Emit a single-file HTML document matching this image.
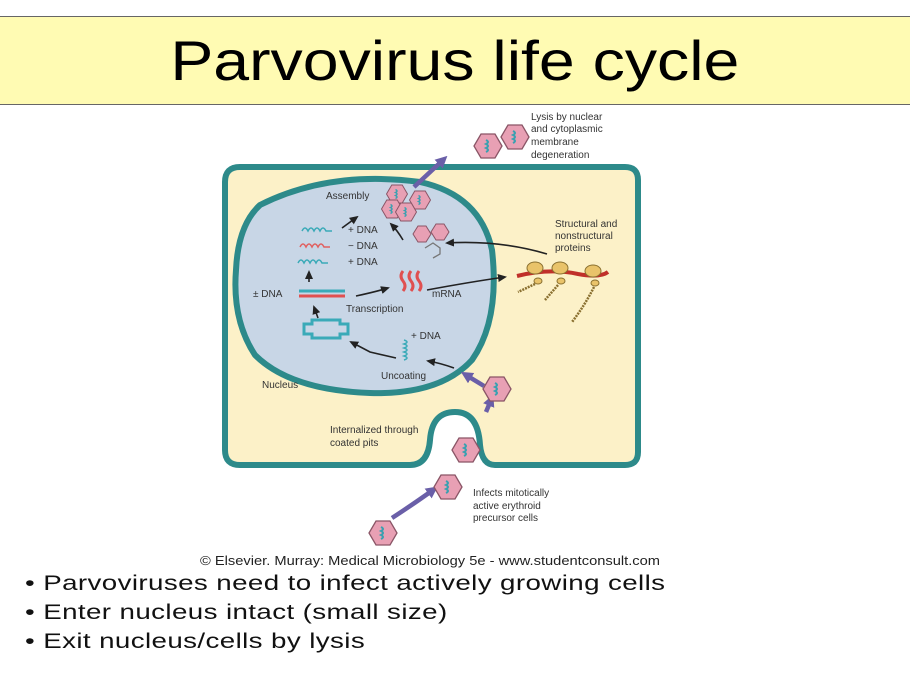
<!DOCTYPE html>
<html><head><meta charset="utf-8"><style>
body{margin:0;width:910px;height:678px;background:#fff;overflow:hidden;font-family:"Liberation Sans",sans-serif;position:relative}
.title{position:absolute;left:0;top:16px;width:910px;height:87px;background:#fffbb3;border-top:1px solid #666;border-bottom:1px solid #666}
.title div{position:absolute;left:0;width:910px;top:11px;text-align:center;font-size:56px;color:#000;transform:scaleX(1.15);transform-origin:456px 0}
.b{position:absolute;left:25px;font-size:21px;color:#111;letter-spacing:0.3px;transform:scaleX(1.32);transform-origin:0 0;white-space:nowrap}
</style></head><body>
<div class="title"><div>Parvovirus life cycle</div></div>
<svg width="910" height="678" style="position:absolute;left:0;top:0" font-family="Liberation Sans, sans-serif">
<defs>
<marker id="ah" markerUnits="userSpaceOnUse" markerWidth="9" markerHeight="8" refX="7" refY="4" orient="auto"><path d="M0,0 L9,4 L0,8z" fill="#222"/></marker>
<marker id="pa" markerUnits="userSpaceOnUse" markerWidth="12" markerHeight="12" refX="6" refY="6" orient="auto"><path d="M0,0 L12,6 L0,12z" fill="#6a5fa8"/></marker>
<g id="hx"><polygon points="-7,-12 7,-12 14,0 7,12 -7,12 -14,0" fill="#e8a0b4" stroke="#8a5566" stroke-width="1.3"/><path d="M-2,-6 q4,2 0,4 q4,2 0,4 q4,2 0,4" stroke="#3aa0b0" stroke-width="2" fill="none"/></g>
</defs>
<path d="M240,167 H625 Q638,167 638,180 V452 Q638,465 625,465 H495 Q482,465 480,445 Q478,412 455,412 Q432,412 430,440 Q428,465 410,465 H240 Q225,465 225,450 V182 Q225,167 240,167Z" fill="#fcf1c8" stroke="#2d8a8a" stroke-width="6"/>
<path d="M260,205 Q330,170 420,182 Q480,195 492,250 Q500,320 472,360 Q440,395 370,393 Q290,390 255,355 Q232,320 236,270 Q238,225 260,205Z" fill="#c8d6e6" stroke="#2d8a8a" stroke-width="6"/>
<g font-size="10" fill="#333">
<text x="326" y="199">Assembly</text>
<text x="348" y="233">+ DNA</text>
<text x="348" y="249">− DNA</text>
<text x="348" y="265">+ DNA</text>
<text x="253" y="297">± DNA</text>
<text x="432" y="297">mRNA</text>
<text x="346" y="312">Transcription</text>
<text x="411" y="339">+ DNA</text>
<text x="381" y="379">Uncoating</text>
<text x="262" y="388">Nucleus</text>
<text x="531" y="120">Lysis by nuclear</text>
<text x="531" y="132">and cytoplasmic</text>
<text x="531" y="145">membrane</text>
<text x="531" y="158">degeneration</text>
<text x="555" y="227">Structural and</text>
<text x="555" y="239">nonstructural</text>
<text x="555" y="251">proteins</text>
<text x="330" y="433">Internalized through</text>
<text x="330" y="446">coated pits</text>
<text x="473" y="496">Infects mitotically</text>
<text x="473" y="509">active erythroid</text>
<text x="473" y="521">precursor cells</text>
</g>
<g stroke-width="1.5" fill="none">
<path d="M302,231 q3,-6 6,0 q3,-6 6,0 q3,-6 6,0 q3,-6 6,0 l6,0" stroke="#3aaab8"/>
<path d="M300,247 q3,-6 6,0 q3,-6 6,0 q3,-6 6,0 q3,-6 6,0 l6,0" stroke="#e06060"/>
<path d="M298,263 q3,-6 6,0 q3,-6 6,0 q3,-6 6,0 q3,-6 6,0 l6,0" stroke="#3aaab8"/>
</g>
<line x1="299" y1="291" x2="345" y2="291" stroke="#3aaab8" stroke-width="3"/>
<line x1="299" y1="296" x2="345" y2="296" stroke="#e05050" stroke-width="3"/>
<g stroke="#e05050" stroke-width="3" fill="none">
<path d="M403,271 q-4,5 0,10 q4,5 0,10"/><path d="M411,271 q-4,5 0,10 q4,5 0,10"/><path d="M419,271 q-4,5 0,10 q4,5 0,10"/>
</g>
<path d="M304,324 h8 v-4 h28 v4 h8 v10 h-8 v4 h-28 v-4 h-8z" fill="none" stroke="#3aaab8" stroke-width="3"/>
<path d="M404,340 q6,2 0,4 q6,2 0,4 q6,2 0,4 q6,2 0,4 q6,2 0,4" stroke="#3aaab8" stroke-width="1.5" fill="none"/>
<g stroke="#222" stroke-width="1.6" fill="none" marker-end="url(#ah)">
<path d="M342,228 L357,217"/><path d="M403,240 Q397,230 391,224"/>
<path d="M309,282 L309,272"/><path d="M356,296 Q375,292 388,288"/>
<path d="M427,290 Q470,282 505,277"/><path d="M547,254 Q500,240 447,243"/>
<path d="M318,318 L314,307"/><path d="M396,358 L370,352 L351,342"/>
<path d="M454,368 Q440,363 428,361"/>
</g>
<g stroke="#6a5fa8" stroke-width="4.5" fill="none" marker-end="url(#pa)">
<path d="M414,187 L443,160"/><path d="M484,386 L466,375"/><path d="M486,412 L491,400"/><path d="M392,518 Q415,503 433,490"/>
</g>
<use href="#hx" x="488" y="146"/><use href="#hx" x="515" y="137"/>
<use href="#hx" x="397" y="194" transform="translate(397,194) scale(0.75) translate(-397,-194)"/>
<use href="#hx" x="392" y="209" transform="translate(392,209) scale(0.75) translate(-392,-209)"/>
<use href="#hx" x="420" y="200" transform="translate(420,200) scale(0.75) translate(-420,-200)"/>
<use href="#hx" x="406" y="212" transform="translate(406,212) scale(0.75) translate(-406,-212)"/>
<polygon points="418,226 426,226 431,234 426,242 418,242 413,234" fill="#e8a0b4" stroke="#8a5566"/>
<polygon points="436,224 444,224 449,232 444,240 436,240 431,232" fill="#e8a0b4" stroke="#8a5566"/>
<path d="M425,248 l8,-5 l7,5 v6 l-7,4" fill="none" stroke="#777" stroke-width="1.3"/>
<use href="#hx" x="497" y="389"/><use href="#hx" x="466" y="450"/><use href="#hx" x="448" y="487"/><use href="#hx" x="383" y="533"/>
<path d="M517,276 Q550,268 578,274 Q600,278 608,272" stroke="#c0302a" stroke-width="4" fill="none"/>
<g fill="#e9c36a" stroke="#8a7030"><ellipse cx="535" cy="268" rx="8" ry="6"/><ellipse cx="560" cy="268" rx="8" ry="6"/><ellipse cx="593" cy="271" rx="8" ry="6"/>
<ellipse cx="538" cy="281" rx="4" ry="3"/><ellipse cx="561" cy="281" rx="4" ry="3"/><ellipse cx="595" cy="283" rx="4" ry="3"/></g>
<g stroke="#8a7030" stroke-width="2.5" stroke-dasharray="2,1" fill="none"><path d="M535,284 L518,292"/><path d="M558,285 L545,300"/><path d="M594,287 Q585,305 572,322"/></g>
<text x="200" y="565" font-size="13" textLength="460" lengthAdjust="spacingAndGlyphs" fill="#222">© Elsevier. Murray: Medical Microbiology 5e - www.studentconsult.com</text>
</svg>
<div class="b" style="top:572px">• Parvoviruses need to infect actively growing cells</div>
<div class="b" style="top:601px">• Enter nucleus intact (small size)</div>
<div class="b" style="top:630px">• Exit nucleus/cells by lysis</div>
</body></html>
